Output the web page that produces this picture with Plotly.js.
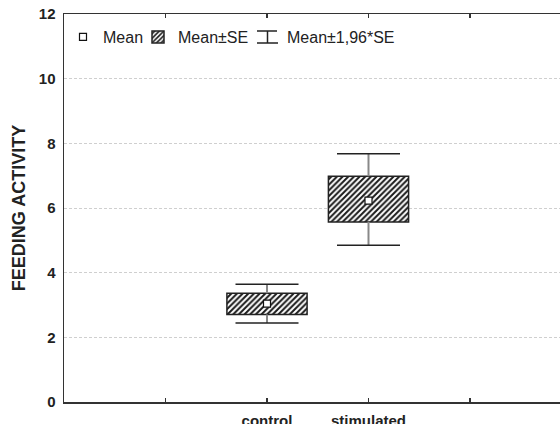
<!DOCTYPE html>
<html>
<head>
<meta charset="utf-8">
<script src="https://cdn.plot.ly/plotly-3.0.1.min.js"></script>
<style>html,body{margin:0;padding:0;background:#fff;}#chart{width:560px;height:424px;}</style>
</head>
<body>
<div id="chart"></div>
<script>
// ---- data ----
const categories = ['control', 'stimulated'];
const means  = [3.04, 6.23];   // Mean
const seLow  = [2.71, 5.57];   // Mean - SE
const seHigh = [3.36, 6.98];   // Mean + SE
const ciLow  = [2.44, 4.85];   // Mean - 1.96*SE
const ciHigh = [3.64, 7.68];   // Mean + 1.96*SE
const yTicks = [0, 2, 4, 6, 8, 10, 12];
const legendNames = ['Mean', 'Mean±SE', 'Mean±1,96*SE'];

// ---- layout constants ----
const W = 560, H = 424, ML = 64, MR = 0, MT = 14, MB = 22;
const PW = W - ML - MR, PH = H - MT - MB;
const FONT = 'Liberation Sans, Arial, sans-serif';
const INK = '#222';
const px = x => (x - ML) / PW;
const py = y => (H - MB - y) / PH;

const idx = categories.map((_, i) => i);

// whisker stems outside the box
const stemX = [], stemY = [];
idx.forEach(i => {
  stemX.push(i, i, null, i, i, null);
  stemY.push(ciLow[i], seLow[i], null, seHigh[i], ciHigh[i], null);
});

const traces = [
  {
    type: 'bar', x: idx, base: seLow, y: seHigh.map((v, i) => v - seLow[i]),
    width: 0.79, name: legendNames[1], legend: 'legend2',
    marker: {
      color: 'white', line: {color: INK, width: 1.5},
      pattern: {shape: '/', fgcolor: '#1a1a1a', bgcolor: 'white', size: 4, solidity: 0.5}
    },
    hoverinfo: 'skip'
  },
  {
    type: 'scatter', mode: 'lines', x: stemX, y: stemY, showlegend: false,
    line: {color: '#888', width: 2}, hoverinfo: 'skip'
  },
  {
    type: 'scatter', mode: 'markers', x: idx.concat(idx), y: ciHigh.concat(ciLow),
    showlegend: false,
    marker: {symbol: 'line-ew', size: 45, color: INK, line: {color: INK, width: 1.5}},
    hoverinfo: 'skip'
  },
  {
    type: 'scatter', mode: 'markers', x: idx, y: means, name: legendNames[0], legend: 'legend',
    marker: {symbol: 'square', size: 7, color: 'white', line: {color: '#111', width: 1.2}}
  },
  {
    type: 'scatter', mode: 'lines', x: [null], y: [null], name: legendNames[2], legend: 'legend3',
    line: {width: 0, color: 'rgba(0,0,0,0)'}, hoverinfo: 'skip'
  }
];

const legendBase = {
  yanchor: 'top', xanchor: 'left', y: py(20), bgcolor: 'rgba(0,0,0,0)', borderwidth: 0,
  font: {family: FONT, size: 16, color: INK}, itemwidth: 30
};

const lineStyle = {color: INK, width: 1.5};
const layout = {
  width: W, height: H,
  margin: {l: ML, r: MR, t: MT, b: MB, pad: 0},
  paper_bgcolor: 'white', plot_bgcolor: 'white',
  showlegend: true,
  legend: Object.assign({}, legendBase, {x: px(63)}),
  legend2: Object.assign({}, legendBase, {x: px(138)}),
  legend3: Object.assign({}, legendBase, {x: px(247)}),
  xaxis: {
    range: [-2, -2 + PW / 101.5],
    tickmode: 'array', tickvals: idx, ticktext: categories,
    ticks: 'inside', ticklen: 4, tickwidth: 1.5, tickcolor: '#333',
    minor: {dtick: 1, tick0: 0, ticks: 'inside', ticklen: 4, tickwidth: 1.5, tickcolor: '#333', showgrid: false},
    showline: true, linecolor: '#333', linewidth: 1.5, mirror: 'ticks',
    showgrid: false, zeroline: false, fixedrange: true,
    tickfont: {family: FONT, size: 15, color: INK, weight: 'bold'},
    ticklabelstandoff: 4
  },
  yaxis: {
    range: [0, 12], tickmode: 'array', tickvals: yTicks,
    ticks: '', showline: true, linecolor: '#333', linewidth: 1.5, mirror: false,
    showgrid: true, gridcolor: '#cfcfcf', gridwidth: 1, griddash: '3px,2px',
    zeroline: false, fixedrange: true,
    tickfont: {family: FONT, size: 15, color: INK, weight: 'bold'},
    ticklabelstandoff: 4,
    title: {text: 'FEEDING ACTIVITY', font: {family: FONT, size: 18, color: INK, weight: 'bold'}, standoff: 8}
  },
  shapes: [
    {type: 'line', xref: 'paper', yref: 'paper', x0: px(257), x1: px(277), y0: py(31), y1: py(31), line: lineStyle},
    {type: 'line', xref: 'paper', yref: 'paper', x0: px(267.5), x1: px(267.5), y0: py(31), y1: py(43), line: lineStyle},
    {type: 'line', xref: 'paper', yref: 'paper', x0: px(257), x1: px(278), y0: py(43), y1: py(43), line: lineStyle}
  ]
};

Plotly.newPlot('chart', traces, layout, {staticPlot: true, displayModeBar: false});
</script>
</body>
</html>
